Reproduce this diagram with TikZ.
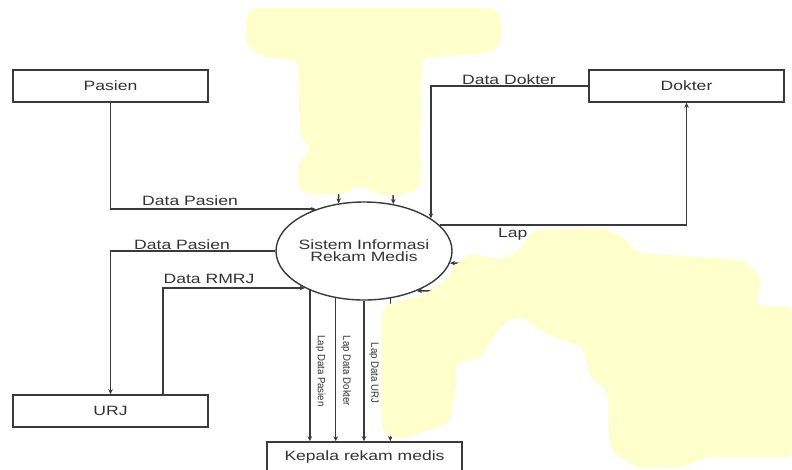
\documentclass[tikz,border=0pt]{standalone}
\usepackage{fontspec}
\setmainfont{Liberation Sans}[FakeStretch=1.3]
\newfontfamily\rotfont{Liberation Sans}[FakeStretch=0.92]
\usetikzlibrary{shapes.geometric,arrows.meta,calc}
\definecolor{linecol}{HTML}{3A3A3A}
\definecolor{txtcol}{HTML}{333333}
\definecolor{hilite}{RGB}{255,255,204}
\tikzset{
  ent/.style={draw=linecol, line width=1.6pt, minimum width=195pt, minimum height=32pt, inner sep=0pt, text=txtcol, font=\fontsize{13.5}{14}\selectfont},
  flow/.style={draw=linecol, line width=1.5pt, -{Stealth[length=5pt,width=4.5pt]}},
  lbl/.style={inner sep=0pt, text=txtcol, font=\fontsize{13.5}{14}\selectfont},
  rlbl/.style={inner sep=0pt, text=txtcol, font=\rotfont\fontsize{10.5}{11}\selectfont, rotate=-90},
  blob/.style={fill=hilite, draw=none, rounded corners=7pt}
}
\begin{document}
\begin{tikzpicture}[x=1pt,y=-1pt]
\useasboundingbox (0,0) rectangle (792,469);
\fill[white] (0,0) rectangle (792,469);

% entities
\node[ent] (pasien) at (110.5,86) {Pasien};
\node[ent] (dokter) at (686.5,86) {Dokter};
\node[ent] (urj) at (110.5,411) {URJ};
\node[ent, minimum height=30pt] (kep) at (364.5,457) {Kepala rekam medis};

% process
\node[ellipse, draw=linecol, line width=1.4pt, minimum width=176pt, minimum height=98pt, inner sep=0pt] (sim) at (364,251) {};
\node[lbl, align=center, font=\fontsize{13.5}{12}\selectfont] (simtxt) at (sim) {Sistem Informasi\\Rekam Medis};

% flows
\draw[flow] (pasien.south) |- (sim.139.5);
\node[lbl] (l1) at (190,201) {Data Pasien};

\draw[flow] (dokter.west) -| (sim.26.1);
\node[lbl] (l2) at (509,80) {Data Dokter};

\draw[flow] (sim.19.1) -| (dokter.south);
\node[lbl, anchor=west] (l3) at (498,234) {Lap};

\draw[flow] (sim.180) -| (urj.north);
\node[lbl] (l4) at (182,245) {Data Pasien};

\draw[flow] ([xshift=52.5pt]urj.north) |- (sim.212.5);
\node[lbl] (l5) at (209,279) {Data RMRJ};

\draw[flow] (sim.216.4) -- (sim.216.4 |- kep.north);
\draw[flow] (sim.239.9) -- (sim.239.9 |- kep.north);
\draw[flow] (sim.270) -- (sim.270 |- kep.north);
\draw[flow] (sim.299.1) -- (sim.299.1 |- kep.north);
\node[rlbl] (r1) at (320.5,371) {Lap Data Pasien};
\node[rlbl] (r2) at (346,371) {Lap Data Dokter};
\node[rlbl] (r3) at (374,373) {Lap Data URJ};

% flows hidden under the highlight
\coordinate (t1) at (339,120);
\coordinate (t2) at (392,120);
\coordinate (h1) at (520,263);
\coordinate (h2) at (500,290);
\draw[flow] (t1) -- (sim.118);
\draw[flow] (t2) -- (sim.58.9);
\draw[flow] (h1) -- (sim.352);
\draw[flow] (h2) -- (sim.323.6);

% highlight blobs
\fill[blob] (250,8) -- (496,8) -- (501,20) -- (501,45) -- (490,53) -- (422,58) -- (420,150) -- (422,185) -- (405,195) -- (380,195) -- (360,185) -- (340,195) -- (300,193) -- (297,165) -- (312,148) -- (300,138) -- (298,60) -- (262,57) -- (246,45) -- (246,18) -- cycle;
\fill[blob] (382,310) -- (382,430) -- (397,440) -- (450,423) -- (457,377) -- (455,363) -- (483,357) -- (490,340) -- (507,320) -- (523,317) -- (543,333) -- (583,347) -- (590,377) -- (607,390) -- (610,450) -- (637,468) -- (687,467) -- (703,457) -- (792,457) -- (792,306) -- (755,306) -- (760,290) -- (760,277) -- (743,260) -- (637,253) -- (623,237) -- (603,228) -- (533,230) -- (522,247) -- (503,260) -- (470,253) -- (453,267) -- (447,280) -- (420,297) -- (390,303) -- cycle;
\end{tikzpicture}
\end{document}
